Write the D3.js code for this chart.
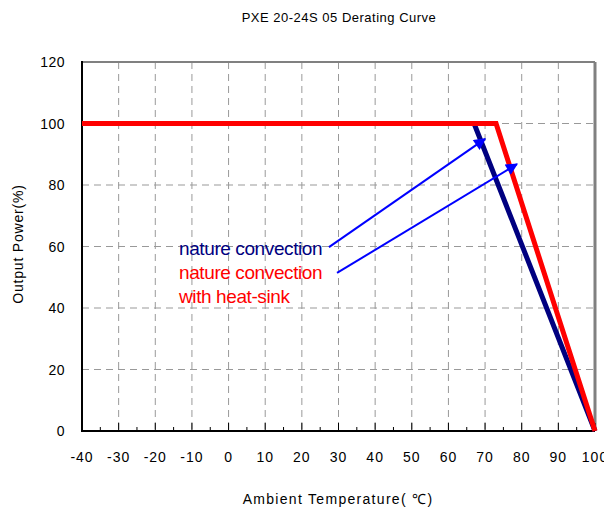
<!DOCTYPE html>
<html>
<head>
<meta charset="utf-8">
<script src="https://cdn.jsdelivr.net/npm/d3@7"></script>
<style>
  body { margin: 0; background: #fff; }
  text { font-family: "Liberation Sans", Arial, sans-serif; fill: #000; }
</style>
</head>
<body>
<svg width="604" height="511"></svg>
<script>
// data
var xTicks = [-40, -30, -20, -10, 0, 10, 20, 30, 40, 50, 60, 70, 80, 90, 100];
var yTicks = [0, 20, 40, 60, 80, 100, 120];
var natureTemp = [-40, 67, 100];
var naturePower = [100, 100, 0];
var sinkTemp = [-40, 73, 100];
var sinkPower = [100, 100, 0];
// arrows: [fromTemp, fromPower, toTemp, toPower]
var arrows = [[27.4, 59.8, 70, 95], [29.6, 51.4, 78.7, 86.8]];

const svg = d3.select("svg");
const pl = 82, pr = 595, pt = 62, pb = 431;

const x = d3.scaleLinear().domain([-40, 100]).range([pl, pr]);
const y = d3.scaleLinear().domain([0, 120]).range([pb, pt]);

svg.append("defs").append("marker")
    .attr("id", "arr")
    .attr("viewBox", "0 0 10 10")
    .attr("refX", 9).attr("refY", 5)
    .attr("markerWidth", 14).attr("markerHeight", 12)
    .attr("markerUnits", "userSpaceOnUse")
    .attr("orient", "auto")
  .append("path")
    .attr("d", "M0,0 L10,5 L0,10 z")
    .attr("fill", "#0000ff");

// grid
svg.append("g").selectAll("line")
    .data(xTicks.filter(d => d > -40 && d < 100))
    .enter().append("line")
    .attr("x1", d => x(d)).attr("x2", d => x(d))
    .attr("y1", pt).attr("y2", pb)
    .attr("stroke", "#999").attr("stroke-width", 1)
    .attr("stroke-dasharray", "7,5");
svg.append("g").selectAll("line")
    .data(yTicks.filter(d => d > 0 && d < 120))
    .enter().append("line")
    .attr("x1", pl).attr("x2", pr)
    .attr("y1", d => y(d)).attr("y2", d => y(d))
    .attr("stroke", "#999").attr("stroke-width", 1)
    .attr("stroke-dasharray", "7,5");

// frame: gray top and right, black left and bottom
svg.append("line").attr("x1", pl).attr("x2", pr).attr("y1", pt).attr("y2", pt)
    .attr("stroke", "#808080").attr("stroke-width", 2);
svg.append("line").attr("x1", pr).attr("x2", pr).attr("y1", pt).attr("y2", pb)
    .attr("stroke", "#808080").attr("stroke-width", 3);

// x axis with minor ticks pointing up
const xMinor = d3.range(-35, 100, 10);
svg.append("g").selectAll("line")
    .data(xMinor).enter().append("line")
    .attr("x1", d => x(d)).attr("x2", d => x(d))
    .attr("y1", pb).attr("y2", pb - 4)
    .attr("stroke", "#000");
svg.append("g").selectAll("line")
    .data(xTicks).enter().append("line")
    .attr("x1", d => x(d)).attr("x2", d => x(d))
    .attr("y1", pb).attr("y2", pb - 8)
    .attr("stroke", "#000");
svg.append("line").attr("x1", pl - 1).attr("x2", pr).attr("y1", pb).attr("y2", pb)
    .attr("stroke", "#000").attr("stroke-width", 2);
svg.append("line").attr("x1", pl).attr("x2", pl).attr("y1", pt - 1).attr("y2", pb)
    .attr("stroke", "#000").attr("stroke-width", 2);

svg.append("g").selectAll("text")
    .data(xTicks).enter().append("text")
    .attr("x", d => x(d)).attr("y", 462)
    .attr("text-anchor", "middle")
    .attr("font-size", 14).attr("letter-spacing", 1)
    .text(d => d);

svg.append("g").selectAll("text")
    .data(yTicks).enter().append("text")
    .attr("x", 65).attr("y", d => y(d) + 5)
    .attr("text-anchor", "end")
    .attr("font-size", 14).attr("letter-spacing", 0.5)
    .text(d => d);

// curves
const line = d3.line().x(d => x(d[0])).y(d => y(d[1]));
svg.append("path")
    .datum(natureTemp.map((t, i) => [t, naturePower[i]]))
    .attr("d", line).attr("fill", "none")
    .attr("stroke", "#000080").attr("stroke-width", 5);
svg.append("path")
    .datum(sinkTemp.map((t, i) => [t, sinkPower[i]]))
    .attr("d", line).attr("fill", "none")
    .attr("stroke", "#ff0000").attr("stroke-width", 5);

// arrows
svg.append("g").selectAll("line")
    .data(arrows).enter().append("line")
    .attr("x1", d => x(d[0])).attr("y1", d => y(d[1]))
    .attr("x2", d => x(d[2])).attr("y2", d => y(d[3]))
    .attr("stroke", "#0000ff").attr("stroke-width", 2)
    .attr("marker-end", "url(#arr)");

// labels
svg.append("text").attr("x", 179).attr("y", 255)
    .attr("font-size", 19).attr("letter-spacing", -0.4)
    .style("fill", "#000080").text("nature convection");
svg.append("text").attr("x", 179).attr("y", 279)
    .attr("font-size", 19).attr("letter-spacing", -0.4)
    .style("fill", "#ff0000").text("nature convection");
svg.append("text").attr("x", 179).attr("y", 303)
    .attr("font-size", 19).attr("letter-spacing", -0.4)
    .style("fill", "#ff0000").text("with heat-sink");

// titles
svg.append("text").attr("x", 339).attr("y", 22)
    .attr("text-anchor", "middle").attr("font-size", 13).attr("letter-spacing", 0.5)
    .text("PXE 20-24S 05  Derating  Curve");
svg.append("text").attr("x", 338).attr("y", 504)
    .attr("text-anchor", "middle").attr("font-size", 14).attr("letter-spacing", 1.3)
    .text("Ambient Temperature( ℃)");
svg.append("text")
    .attr("transform", "translate(23,244) rotate(-90)")
    .attr("text-anchor", "middle").attr("font-size", 14).attr("letter-spacing", 0.8)
    .text("Output Power(%)");
</script>
</body>
</html>
